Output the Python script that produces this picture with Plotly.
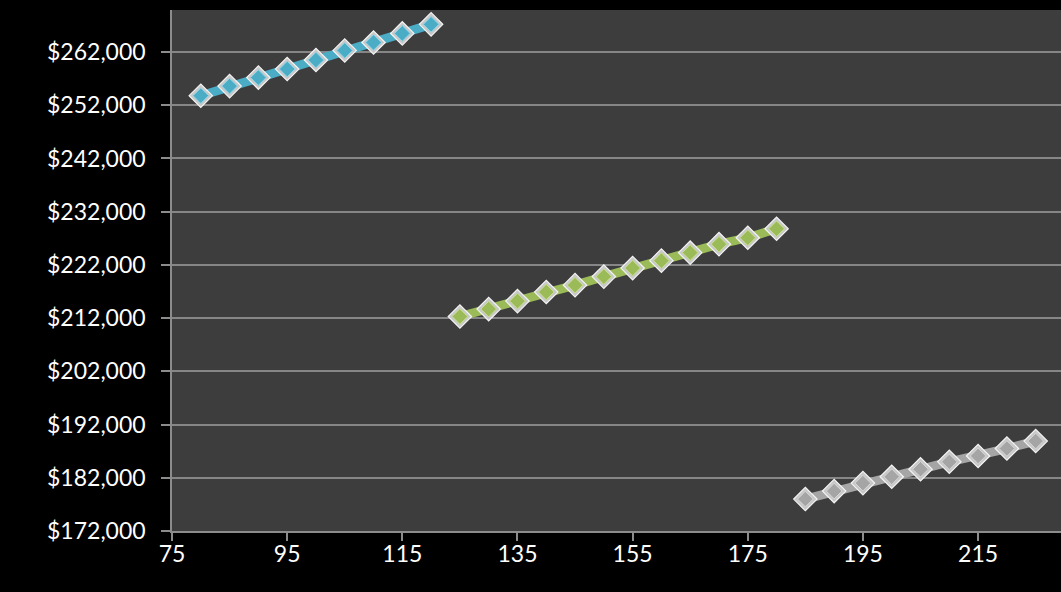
import plotly.graph_objects as go

# Price series by size band
x_small = [80, 85, 90, 95, 100, 105, 110, 115, 120]
y_small = [253800, 255600, 257200, 258800, 260500, 262300, 263800, 265500, 267200]

x_mid = [125, 130, 135, 140, 145, 150, 155, 160, 165, 170, 175, 180]
y_mid = [212300, 213700, 215200, 216900, 218200, 219800, 221400, 222800, 224300, 225900, 227100, 228800]

x_large = [185, 190, 195, 200, 205, 210, 215, 220, 225]
y_large = [178000, 179500, 181000, 182200, 183600, 185000, 186100, 187500, 188900]

x_ticks = [75, 95, 115, 135, 155, 175, 195, 215, 235]
y_ticks = [172000, 182000, 192000, 202000, 212000, 222000, 232000, 242000, 252000, 262000]

series = [
    (x_small, y_small, "#4BACC6", "#8fd6ea"),
    (x_mid, y_mid, "#9BBB59", "#c7e08e"),
    (x_large, y_large, "#A5A5A5", "#d6d6d6"),
]

fig = go.Figure()
for xs, ys, col, light in series:
    fig.add_trace(go.Scatter(
        x=xs, y=ys, mode="lines",
        line=dict(color=col, width=9),
        hoverinfo="skip", showlegend=False,
    ))
    # bevelled diamond markers: silver rim with a coloured face
    fig.add_trace(go.Scatter(
        x=xs, y=ys, mode="markers",
        marker=dict(symbol="diamond", size=18, color="#c8c8c8",
                    line=dict(color="#f4f4f4", width=1.2)),
        hoverinfo="skip", showlegend=False,
    ))
    fig.add_trace(go.Scatter(
        x=xs, y=ys, mode="markers",
        marker=dict(symbol="diamond", size=12, color=col,
                    line=dict(color=light, width=1)),
        showlegend=False,
    ))

fig.update_layout(
    width=1061, height=592,
    paper_bgcolor="#000000",
    plot_bgcolor="#3d3d3d",
    margin=dict(l=172, r=0, t=10, b=61),
    font=dict(family="Lato, 'Open Sans', sans-serif", size=23, color="#ffffff"),
    xaxis=dict(
        range=[75, 229.4],
        tickvals=x_ticks, ticktext=[str(v) for v in x_ticks],
        showgrid=False, zeroline=False,
        showline=True, linecolor="#8c8c8c", linewidth=1.5,
        ticks="outside", ticklen=8, tickcolor="#8c8c8c", tickwidth=1.5,
        ticklabelstandoff=-6,
    ),
    yaxis=dict(
        range=[172000, 269900],
        tickvals=y_ticks, ticktext=["${:,}".format(v) for v in y_ticks],
        showgrid=True, gridcolor="#868686", gridwidth=1.5,
        zeroline=False,
        showline=True, linecolor="#8c8c8c", linewidth=1.5,
        ticks="outside", ticklen=9, tickcolor="#8c8c8c", tickwidth=1.5,
        ticklabelstandoff=11,
    ),
)

fig.write_html("out.html")
